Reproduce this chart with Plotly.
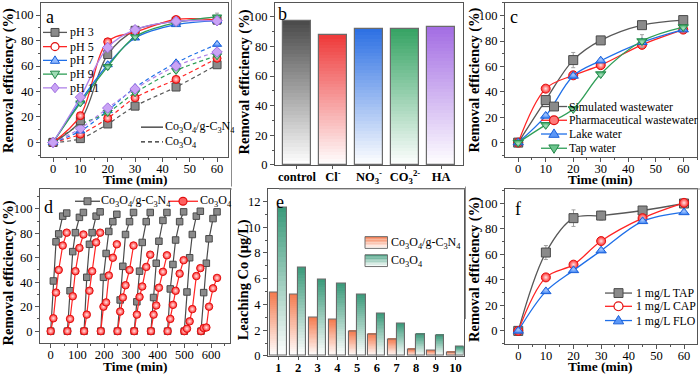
import plotly.graph_objects as go

W, H = 700, 384
SERIF = "Liberation Serif"

# ---------------- data ----------------
a_time = [0, 10, 20, 30, 45, 60]
a_names = ["pH 3", "pH 5", "pH 7", "pH 9", "pH 11"]
a_comp_ph3 = [0, 17, 69, 88, 95, 96]
a_comp_ph5 = [0, 21, 79, 86.5, 96.5, 96]
a_comp_ph7 = [0, 32.5, 61, 82, 92.5, 95.5]
a_comp_ph9 = [0, 31, 59.5, 83, 94, 98.5]
a_comp_ph11 = [0, 35.5, 74.5, 88.5, 95, 95.5]
a_co3o4_ph3 = [0, 3, 14.5, 28.5, 43.5, 61]
a_co3o4_ph5 = [0, 6.5, 19, 35, 49.5, 66]
a_co3o4_ph7 = [0, 9, 25, 43, 62.5, 77]
a_co3o4_ph9 = [0, 14, 23.5, 39, 56.5, 68]
a_co3o4_ph11 = [0, 11, 27, 42, 60, 71]
a_ph9_err = [0, 0, 2, 0, 0, 3]

b_labels = ["control", "Cl<sup>-</sup>", "NO<sub>3</sub><sup>-</sup>",
            "CO<sub>3</sub><sup>2-</sup>", "HA"]
b_values = [97, 87.5, 92, 91.7, 93.2]

c_time = [0, 10, 20, 30, 45, 60]
c_names = ["Simulated wastewater", "Pharmaceutical wastewater", "Lake water", "Tap water"]
c_simulated = [0, 33.5, 65, 80.5, 92.5, 96.5]
c_simulated_err = [0, 2, 6, 1, 1.5, 1]
c_pharma = [0, 42.5, 53, 61, 77, 89]
c_lake = [0, 21, 52.5, 64.5, 79, 89]
c_tap = [0, 14, 26.5, 54, 80, 91]
c_tap_err = [0, 0, 0, 0, 5, 1.5]

d_time = [0, 10, 20, 30, 45, 60]
d_cycle_period = 62.5
d_comp_cycles = [
    [0, 41, 73, 79.5, 94, 96.5],
    [0, 33, 65, 80.5, 93, 97],
    [0, 44, 71, 80.5, 94, 97.5],
    [0, 44, 63.5, 81.5, 89.5, 95.5],
    [0, 25.5, 53, 79, 89.5, 97],
    [0, 24, 49, 72.5, 89.5, 97],
    [0, 27.5, 55.5, 73.5, 90.5, 97],
    [0, 34.5, 54.5, 74.5, 89.5, 97.5],
    [0, 32, 60, 79, 94, 98],
    [0, 31.5, 55.5, 75.5, 92, 97.5],
]
d_co3o4_cycles = [
    [0, 10.5, 31.5, 50, 70, 80.5],
    [0, 10, 28.5, 49, 68, 79],
    [0, 13.5, 33, 49, 72.5, 80.5],
    [0, 20, 23.5, 45.5, 60, 71],
    [0, 16, 27.5, 37.5, 50, 70],
    [0, 13.5, 28, 36.5, 52.5, 62.5],
    [0, 13.5, 21, 35.5, 48.5, 62],
    [0, 10, 21.5, 33, 47, 58],
    [0, 2, 8, 18, 45, 51.5],
    [0, 2.5, 3, 20, 35, 43.5],
]

e_runs = [1, 2, 3, 4, 5, 6, 7, 8, 9, 10]
e_comp = [4.9, 4.8, 3.0, 2.8, 1.9, 1.7, 1.3, 0.5, 0.4, 0.3]
e_co3o4 = [11.5, 6.9, 5.9, 5.6, 4.8, 3.3, 2.5, 1.7, 1.6, 0.7]

f_time = [0, 10, 20, 30, 45, 60]
f_names = ["1 mg/L TAP", "1 mg/L CAP", "1 mg/L FLO"]
f_tap = [0, 61.5, 88.5, 90.5, 94.5, 100]
f_tap_err = [0, 5.5, 6.5, 3.5, 1, 0.5]
f_cap = [0, 42, 52, 70.5, 88.5, 100.5]
f_flo = [0, 31, 47.5, 63, 86, 93]

# ---------------- styles ----------------
GRAY = dict(line="#585858", fill="#8a8a8a", edge="#4a4a4a", grad=None, symbol="square")
RED = dict(line="#ff2424", fill="#ff2a2a", edge="#e01010", grad="#ffe4e4", symbol="circle")
BLUE = dict(line="#1f6fe8", fill="#3d85f5", edge="#1a5fd8", grad="#a8c8ff", symbol="triangle-up")
GREEN = dict(line="#2f9e57", fill="#3aaa64", edge="#23874a", grad="#b0e4c4", symbol="triangle-down")
PURPLE = dict(line="#b083e8", fill="#c9a3f5", edge="#a070e0", grad=None, symbol="diamond")
ERRC = "#a0a0a0"
AXC = "#555555"

def X(p):
    return p / W

def Y(p):
    return 1 - p / H

def mk(st, size=8):
    m = dict(symbol=st["symbol"], size=size, color=st["fill"],
             line=dict(color=st["edge"], width=1))
    if st["grad"]:
        m["gradient"] = dict(type="radial", color=st["grad"])
    return m

fig = go.Figure()

# ---------------- panel a ----------------
a_styles = [GRAY, RED, BLUE, GREEN, PURPLE]
a_comp = [a_comp_ph3, a_comp_ph5, a_comp_ph7, a_comp_ph9, a_comp_ph11]
a_co = [a_co3o4_ph3, a_co3o4_ph5, a_co3o4_ph7, a_co3o4_ph9, a_co3o4_ph11]
for st, ys in zip(a_styles, a_co):
    fig.add_trace(go.Scatter(x=a_time, y=ys, mode="lines+markers",
                             line=dict(color=st["line"], width=1.2, dash="4px,3px", shape="spline"),
                             marker=mk(st, 8), xaxis="x", yaxis="y"))
for i, (st, ys) in enumerate(zip(a_styles, a_comp)):
    err = dict(type="data", array=a_ph9_err, color=ERRC, thickness=1, width=2) if i == 3 else None
    fig.add_trace(go.Scatter(x=a_time, y=ys, mode="lines+markers", error_y=err,
                             line=dict(color=st["line"], width=1.3, shape="spline"),
                             marker=mk(st, 8), xaxis="x", yaxis="y"))

# ---------------- panel b (gradient bars) ----------------
def hex2rgb(h):
    h = h.lstrip("#")
    return tuple(int(h[i:i + 2], 16) for i in (0, 2, 4))

def mix(h, f):
    r, g, b = hex2rgb(h)
    return "rgb(%d,%d,%d)" % (round(255 + (r - 255) * f), round(255 + (g - 255) * f), round(255 + (b - 255) * f))

b_top_colors = ["#4a4a4a", "#ee3a3a", "#2b6fe3", "#35a363", "#a36ce3"]
b_pos = list(range(1, len(b_values) + 1))
NSEG = 40
for k in range(NSEG):
    frac = (k + 0.5) / NSEG
    fig.add_trace(go.Bar(x=b_pos, y=[v / NSEG for v in b_values], base=[v * k / NSEG for v in b_values],
                         width=0.8, marker=dict(color=[mix(c, frac) for c in b_top_colors], line=dict(width=0)),
                         xaxis="x2", yaxis="y2", hoverinfo="skip"))
fig.add_trace(go.Bar(x=b_pos, y=b_values, width=0.8,
                     marker=dict(color="rgba(0,0,0,0)", line=dict(color="#6a6a6a", width=1.2)),
                     xaxis="x2", yaxis="y2"))

# ---------------- panel c ----------------
c_series = [c_simulated, c_pharma, c_lake, c_tap]
c_styles = [GRAY, RED, BLUE, GREEN]
c_errs = [c_simulated_err, None, None, c_tap_err]
for ys, st, er in zip(c_series, c_styles, c_errs):
    err = dict(type="data", array=er, color=ERRC, thickness=1, width=2) if er else None
    fig.add_trace(go.Scatter(x=c_time, y=ys, mode="lines+markers", error_y=err,
                             line=dict(color=st["line"], width=1.3, shape="spline"),
                             marker=mk(st, 9), xaxis="x3", yaxis="y3"))

# ---------------- panel d ----------------
def cycles_xy(cycles):
    xs, ys = [], []
    for k, cyc in enumerate(cycles):
        xs += [k * d_cycle_period + t for t in d_time] + [None]
        ys += list(cyc) + [None]
    return xs, ys

dx, dy = cycles_xy(d_comp_cycles)
fig.add_trace(go.Scatter(x=dx, y=dy, mode="lines+markers", line=dict(color="#4a4a4a", width=1.2),
                         marker=mk(GRAY, 6.5), xaxis="x4", yaxis="y4"))
dx, dy = cycles_xy(d_co3o4_cycles)
fig.add_trace(go.Scatter(x=dx, y=dy, mode="lines+markers", line=dict(color="#ff2424", width=1.2),
                         marker=mk(RED, 7.5), xaxis="x4", yaxis="y4"))

# ---------------- panel e (gradient grouped bars) ----------------
E_OR = "#f47a4e"
E_GR = "#3a9a7a"
E_W = 0.43
NSEG_E = 30
for vals, col, off in [(e_comp, E_OR, -E_W), (e_co3o4, E_GR, 0.0)]:
    for k in range(NSEG_E):
        frac = (k + 0.5) / NSEG_E
        fig.add_trace(go.Bar(x=e_runs, y=[v / NSEG_E for v in vals], base=[v * k / NSEG_E for v in vals],
                             width=E_W, offset=off, marker=dict(color=mix(col, frac), line=dict(width=0)),
                             xaxis="x5", yaxis="y5", hoverinfo="skip"))
    fig.add_trace(go.Bar(x=e_runs, y=vals, width=E_W, offset=off,
                         marker=dict(color="rgba(0,0,0,0)", line=dict(color="#6a6a6a", width=1.1)),
                         xaxis="x5", yaxis="y5"))

# ---------------- panel f ----------------
f_series = [f_tap, f_cap, f_flo]
f_styles = [GRAY, RED, BLUE]
f_errs = [f_tap_err, None, None]
for ys, st, er in zip(f_series, f_styles, f_errs):
    err = dict(type="data", array=er, color=ERRC, thickness=1, width=2) if er else None
    fig.add_trace(go.Scatter(x=f_time, y=ys, mode="lines+markers", error_y=err,
                             line=dict(color=st["line"], width=1.3, shape="spline"),
                             marker=mk(st, 9), xaxis="x6", yaxis="y6"))

# ---------------- axes ----------------
def ax(domain, rng, anchor, dtick=None, minor=None, tickvals=None, ticktext=None, ticklen=4, standoff=0):
    d = dict(domain=domain, range=rng, anchor=anchor, showline=True, linecolor=AXC, linewidth=1,
             mirror=True, ticks="outside", ticklen=ticklen, tickcolor=AXC, tickwidth=1,
             showgrid=False, zeroline=False, ticklabelstandoff=standoff,
             tickfont=dict(family=SERIF, size=12.5, color="black"))
    if dtick is not None:
        d["dtick"] = dtick
        d["tick0"] = 0
    if minor is not None:
        d["minor"] = dict(dtick=minor, tick0=0, ticks="outside", ticklen=2, tickcolor=AXC)
    if tickvals is not None:
        d["tickmode"] = "array"
        d["tickvals"] = tickvals
        d["ticktext"] = ticktext
    return d

XS = -4
dom_top = [Y(160), Y(3)]
fig.update_layout(
    xaxis=ax([X(41), X(228)], [-4.4, 64], "y", 10, 5, standoff=XS),
    yaxis=ax(dom_top, [-11.5, 109.5], "x", 20, 10),
    xaxis2=ax([X(275), X(463)], [0.39, 5.61], "y2", tickvals=b_pos,
              ticktext=["<b>%s</b>" % s for s in b_labels], ticklen=3, standoff=-3),
    yaxis2=ax([Y(168), Y(3)], [0, 109.3], "x2", 20, 10),
    xaxis3=ax([X(505), X(697)], [-4.8, 65], "y3", 10, 5, standoff=XS),
    yaxis3=ax(dom_top, [-11.4, 110], "x3", 20, 10),
    xaxis4=ax([X(40), X(230)], [-40, 671], "y4", 100, 50, standoff=XS),
    yaxis4=ax([Y(349), Y(193)], [-9.4, 115.8], "x4", 20, 10),
    xaxis5=ax([X(268), X(463.5)], [0.477, 10.4], "y5", tickvals=e_runs,
              ticktext=["<b>%d</b>" % r for r in e_runs], ticklen=3, standoff=-3),
    yaxis5=ax([Y(362.5), Y(193)], [0, 12.93], "x5", 2, 1),
    xaxis6=ax([X(505), X(697)], [-4.8, 64.7], "y6", 10, 5, standoff=XS),
    yaxis6=ax([Y(350), Y(193)], [-10, 111], "x6", 20, 10),
)

# ---------------- annotations & manual legends ----------------
shapes, annotations = [], []

def text(px, py, s, size=12, anchor="left", bold=False, angle=0):
    annotations.append(dict(x=X(px), y=Y(py), xref="paper", yref="paper",
                            text=("<b>%s</b>" % s) if bold else s, showarrow=False,
                            xanchor=anchor, yanchor="middle", textangle=angle, borderpad=0,
                            font=dict(family=SERIF, size=size, color="black")))

def hline(x0, x1, y, color, dash="solid", width=1.3):
    shapes.append(dict(type="line", xref="paper", yref="paper", x0=X(x0), x1=X(x1), y0=Y(y), y1=Y(y),
                       line=dict(color=color, width=width, dash=dash)))

def vline(x, y0, y1, color, width=1):
    shapes.append(dict(type="line", xref="paper", yref="paper", x0=X(x), x1=X(x), y0=Y(y0), y1=Y(y1),
                       line=dict(color=color, width=width)))

def poly(pts, fill, edge):
    path = "M " + " L ".join("%.5f,%.5f" % (X(px), Y(py)) for px, py in pts) + " Z"
    shapes.append(dict(type="path", xref="paper", yref="paper", path=path, fillcolor=fill,
                       line=dict(color=edge, width=1)))

def marker_shape(cx, cy, st, size=8, fill=None):
    r = size / 2
    fill = fill or st["fill"]
    sym = st["symbol"]
    if sym == "square":
        shapes.append(dict(type="rect", xref="paper", yref="paper", x0=X(cx - r), x1=X(cx + r),
                           y0=Y(cy + r), y1=Y(cy - r), fillcolor=fill, line=dict(color=st["edge"], width=1)))
    elif sym == "circle":
        shapes.append(dict(type="circle", xref="paper", yref="paper", x0=X(cx - r), x1=X(cx + r),
                           y0=Y(cy + r), y1=Y(cy - r), fillcolor=fill, line=dict(color=st["edge"], width=1.2)))
    elif sym == "triangle-up":
        poly([(cx, cy - r * 1.15), (cx + r * 1.15, cy + r * 0.75), (cx - r * 1.15, cy + r * 0.75)], fill, st["edge"])
    elif sym == "triangle-down":
        poly([(cx, cy + r * 1.15), (cx + r * 1.15, cy - r * 0.75), (cx - r * 1.15, cy - r * 0.75)], fill, st["edge"])
    elif sym == "diamond":
        poly([(cx, cy - r * 1.25), (cx + r, cy), (cx, cy + r * 1.25), (cx - r, cy)], fill, st["edge"])

def legend_item(x0, x1, y, st, label, size=8, fs=12, fill=None, tx=None):
    hline(x0, x1, y, st["line"])
    marker_shape((x0 + x1) / 2, y, st, size, fill)
    text(tx if tx is not None else x1 + 3, y, label, fs)

CO3O4 = "Co<sub>3</sub>O<sub>4</sub>"
COMP = "Co<sub>3</sub>O<sub>4</sub>/g-C<sub>3</sub>N<sub>4</sub>"

# panel a legends
a_rows = [33, 47.5, 61.5, 75.5, 89.5]
a_fills = [None, "#ffffff", "#8fb8ff", "#9fdcb5", None]
for yy, st, name, fl in zip(a_rows, a_styles, a_names, a_fills):
    legend_item(43, 67, yy, st, name, 8, 12, fl, tx=69)
hline(141, 163, 129.5, "#222222", width=1.2)
text(164, 129.5, COMP, 12)
hline(141, 163, 144.5, "#222222", dash="4px,3px", width=1.2)
text(164, 144.5, CO3O4, 12)

# panel c legend
c_rows = [108.5, 122.5, 136.5, 151]
c_fills = [None, "#ff7a7a", "#5b97f7", "#6cc58d"]
for yy, st, name, fl in zip(c_rows, c_styles, c_names, c_fills):
    legend_item(541, 567, yy, st, name, 9, 11.8, fl, tx=568)

# panel d legend
legend_item(75, 100, 205, dict(GRAY, line="#4a4a4a"), COMP, 7, 12, tx=100)
legend_item(168, 198, 205, RED, CO3O4, 8, 12, "#ff6060", tx=199)

# panel e legend (gradient boxes)
for (yt, col, label) in [(241, E_OR, COMP), (259.5, E_GR, CO3O4)]:
    nb = 8
    for k in range(nb):
        frac = 1 - (k + 0.5) / nb
        shapes.append(dict(type="rect", xref="paper", yref="paper", x0=X(365), x1=X(387.5),
                           y0=Y(yt + 12 * (k + 1) / nb), y1=Y(yt + 12 * k / nb),
                           fillcolor=mix(col, frac), line=dict(width=0)))
    shapes.append(dict(type="rect", xref="paper", yref="paper", x0=X(365), x1=X(387.5),
                       y0=Y(yt + 12), y1=Y(yt), line=dict(color="#707070", width=1)))
    text(390, yt + 6.5, label, 12)

# panel f legend
f_rows = [298.5, 312, 326.5]
f_fills = [None, "#ffffff", "#5b97f7"]
for yy, st, name, fl in zip(f_rows, f_styles, f_names, f_fills):
    legend_item(605, 632, yy, st, name, 9, 11.8, fl, tx=635)

# axis titles
YT = "Removal efficiency (%)"
text(8.5, 82, YT, 14.5, "center", True, -90)
text(244, 84, YT, 14.5, "center", True, -90)
text(475, 82, YT, 14.5, "center", True, -90)
text(8.5, 278, YT, 14.5, "center", True, -90)
text(243.5, 285, "Leaching Co (μg/L)", 14.5, "center", True, -90)
text(475, 275, YT, 14.5, "center", True, -90)
text(135, 183, "Time (min)", 13.5, "center", True)
text(600, 183, "Time (min)", 13.5, "center", True)
text(135, 373, "Time (min)", 13.5, "center", True)
text(600, 373, "Time (min)", 13.5, "center", True)

# panel letters
for (px, py, s) in [(50, 17, "a"), (282, 14, "b"), (514, 17, "c"), (48, 211, "d"), (280, 206, "e"), (518, 213, "f")]:
    text(px, py, s, 18, "center")

# faint panel frame lines
FR = "#8c8c8c"
vline(231.5, 0, 190, FR)
hline(50, 232, 192.5, FR, width=1)
hline(279, 465, 192.5, FR, width=1)
hline(515, 700, 192.5, FR, width=1)
vline(465.5, 190, 325, FR)

fig.update_layout(width=W, height=H, margin=dict(l=0, r=0, t=0, b=0), autosize=False,
                  plot_bgcolor="white", paper_bgcolor="white", showlegend=False,
                  barmode="overlay", bargap=0, shapes=shapes, annotations=annotations,
                  font=dict(family=SERIF, color="black"))

fig.write_html("out.html", config={"displayModeBar": False},
               post_script="document.body.style.margin='0';document.body.style.padding='0';"
                           "document.body.style.overflow='hidden';")
